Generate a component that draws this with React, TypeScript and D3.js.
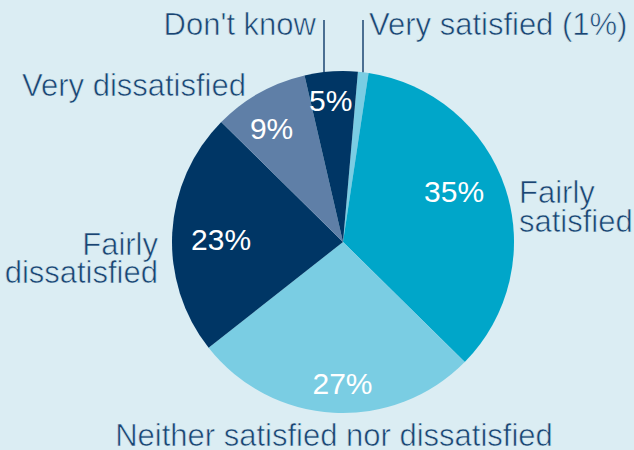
import { useMemo } from "react";
import * as d3 from "d3";

const W = 634;
const H = 450;

const categories = [
  "Very satisfied",
  "Fairly satisfied",
  "Neither satisfied nor dissatisfied",
  "Fairly dissatisfied",
  "Very dissatisfied",
  "Don't know",
];
const values = [1, 35, 27, 23, 9, 5];
const colors = ["#7acde3", "#00a6c9", "#7acde3", "#003665", "#5f7fa7", "#003665"];
// label nudges: [radius, angle offset in degrees]
const labelNudge: [number, number][] = [
  [0, 0],
  [122, -6],
  [141, -3],
  [122, -2],
  [134, -3],
  [142, -1],
];

const BG = "#dbedf3";
const TEXT = "#1b4472";
const FONT = "'Liberation Sans', Arial, Helvetica, sans-serif";

export default function App() {
  const cx = 343;
  const cy = 242;
  const r = 171;
  const startDeg = 5;

  const arcs = useMemo(() => {
    const pie = d3
      .pie<number>()
      .sort(null)
      .value((d) => d)
      .startAngle((startDeg * Math.PI) / 180)
      .endAngle(((startDeg + 360) * Math.PI) / 180);
    return pie(values);
  }, []);

  const arc = d3.arc<d3.PieArcDatum<number>>().innerRadius(0).outerRadius(r);

  const edgeY = (x: number) => cy - Math.sqrt(r * r - (x - cx) * (x - cx));

  return (
    <svg
      width={W}
      height={H}
      style={{ position: "absolute", left: 0, top: 0, display: "block" }}
      fontFamily={FONT}
    >
      <rect width={W} height={H} fill={BG} />
      <g transform={`translate(${cx},${cy})`}>
        {arcs.map((a, i) => (
          <path key={categories[i]} d={arc(a) ?? ""} fill={colors[i]} />
        ))}
        {arcs.map((a, i) => {
          if (i === 0) return null;
          const [lr, dAng] = labelNudge[i];
          const mid = (a.startAngle + a.endAngle) / 2 + (dAng * Math.PI) / 180;
          const x = Math.sin(mid) * lr;
          const y = -Math.cos(mid) * lr;
          return (
            <text
              key={`l-${i}`}
              x={x}
              y={y}
              dy="0.36em"
              textAnchor="middle"
              fill="#ffffff"
              fontSize={30}
            >
              {`${values[i]}%`}
            </text>
          );
        })}
      </g>

      {/* leader lines */}
      <line x1={324} x2={324} y1={20} y2={edgeY(324)} stroke={TEXT} strokeWidth={1.5} />
      <line x1={363} x2={363} y1={20} y2={edgeY(363)} stroke={TEXT} strokeWidth={1.5} />

      {/* thin background stroke to lighten the glyphs a touch */}
      <g fill={TEXT} fontSize={31} stroke={BG} strokeWidth={0.6}>
        <text x={369} y={35}>{`${categories[0]} (${values[0]}%)`}</text>
        <text x={316} y={35} textAnchor="end">{categories[5]}</text>
        <text x={22} y={96}>{categories[4]}</text>
        <text x={158} y={255} textAnchor="end">
          <tspan x={158}>Fairly</tspan>
          <tspan x={158} dy={28}>dissatisfied</tspan>
        </text>
        <text x={519} y={203}>
          <tspan x={519}>Fairly</tspan>
          <tspan x={519} dy={29}>satisfied</tspan>
        </text>
        <text x={334} y={446} textAnchor="middle">{categories[2]}</text>
      </g>
    </svg>
  );
}
